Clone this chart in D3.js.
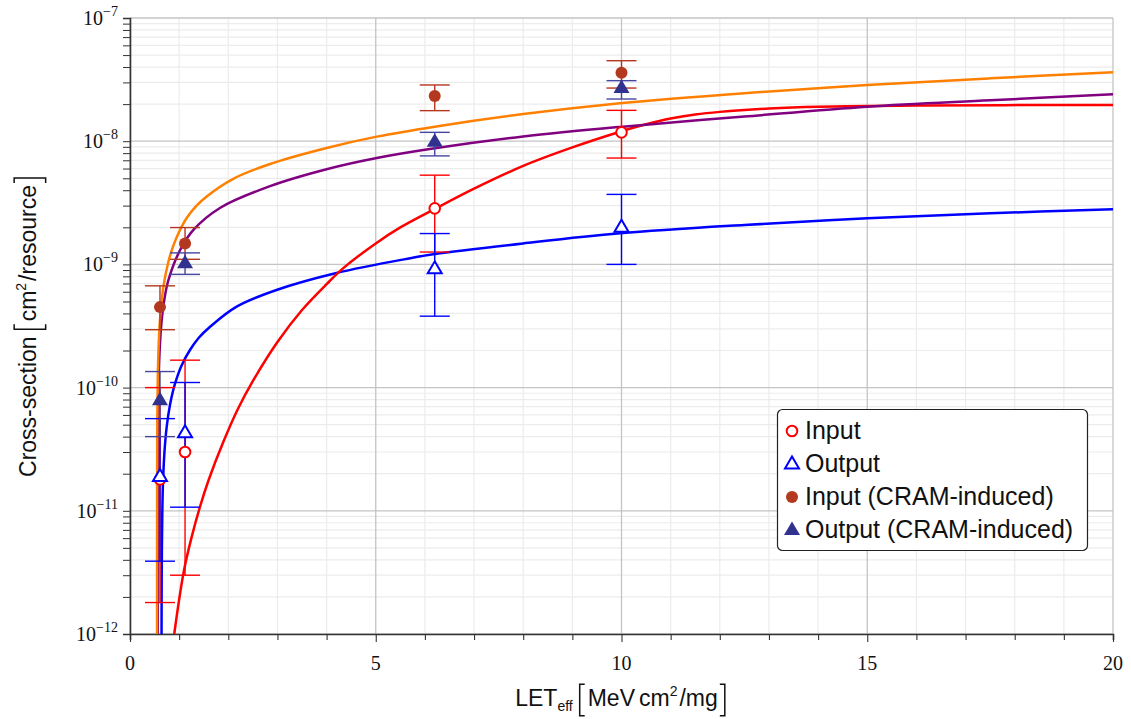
<!DOCTYPE html>
<html><head><meta charset="utf-8">
<script src="https://cdn.jsdelivr.net/npm/d3@7/dist/d3.min.js"></script>
<style>body{margin:0;background:#fff}svg{display:block}</style>
</head><body>
<svg id="c" width="1131" height="719"></svg>
<script>
// ---- data ----
const xTicks = [0, 5, 10, 15, 20];
const yTickExps = [-7, -8, -9, -10, -11, -12];
const pointLET = [0.61, 1.12, 6.2, 10.0];

const inputVal  = [1.8e-11, 3.0e-11, 2.85e-9, 1.18e-8];
const inputLo   = [1.8e-12, 3.0e-12, 1.26e-9, 7.3e-9];
const inputHi   = [1.0e-10, 1.67e-10, 5.3e-9, 1.78e-8];

const outputVal = [1.9e-11, 4.3e-11, 9.2e-10, 2.0e-9];
const outputLo  = [3.9e-12, 1.07e-11, 3.8e-10, 1.0e-9];
const outputHi  = [5.6e-11, 1.1e-10, 1.78e-9, 3.7e-9];

const cramInVal = [4.5e-10, 1.48e-9, 2.33e-8, 3.6e-8];
const cramInLo  = [2.95e-10, 1.1e-9, 1.77e-8, 2.7e-8];
const cramInHi  = [6.7e-10, 1.99e-9, 2.86e-8, 4.5e-8];

const cramOutVal = [7.9e-11, 1.02e-9, 9.9e-9, 2.7e-8];
const cramOutLo  = [4.0e-11, 8.3e-10, 7.6e-9, 2.2e-8];
const cramOutHi  = [1.35e-10, 1.24e-9, 1.18e-8, 3.1e-8];

// fitted curves: [LET, log10(cross-section)]
const fitInput = [[0.9,-12],[1.0,-11.72],[1.1,-11.48],[1.25,-11.22],[1.424,-10.967],[1.6,-10.75],[1.9,-10.44],[2.2,-10.17],[2.51,-9.94],[3.0,-9.63],[3.5,-9.37],[4.0,-9.16],[4.34,-9.03],[5.0,-8.83],[5.5,-8.70],[6.2,-8.55],[7.0,-8.385],[8.0,-8.2],[9.0,-8.05],[9.97,-7.923],[10.5,-7.862],[11,-7.815],[11.5,-7.783],[12,-7.762],[13,-7.735],[14,-7.72],[16,-7.71],[20,-7.706]];
const fitOutput = [[0.642,-12],[0.645,-11.53],[0.657,-11.02],[0.67,-10.79],[0.70,-10.53],[0.746,-10.32],[0.814,-10.14],[0.88,-10.02],[0.95,-9.925],[1.05,-9.82],[1.22,-9.695],[1.4,-9.595],[1.63,-9.506],[2.17,-9.343],[2.98,-9.208],[4.2,-9.07],[5.7,-8.95],[6.2,-8.916],[8,-8.83],[9.97,-8.748],[12.5,-8.68],[15,-8.626],[17.5,-8.585],[20,-8.553]];
const fitCramIn = [[0.55,-12],[0.5505,-11.11],[0.552,-10.63],[0.556,-10.25],[0.565,-9.93],[0.58,-9.69],[0.61,-9.45],[0.68,-9.18],[0.78,-8.98],[0.88,-8.85],[1.0,-8.735],[1.15,-8.625],[1.35,-8.525],[1.56,-8.448],[2.1,-8.305],[2.85,-8.185],[4,-8.055],[5.02,-7.963],[6.2,-7.882],[8,-7.78],[9.97,-7.692],[12.5,-7.61],[15,-7.544],[17.5,-7.49],[20,-7.441]];
const fitCramOut = [[0.565,-12],[0.5651,-11.645],[0.566,-10.89],[0.57,-10.361],[0.58,-10.002],[0.6,-9.724],[0.64,-9.474],[0.7,-9.282],[0.78,-9.129],[1.02,-8.883],[1.29,-8.72],[1.83,-8.542],[2.85,-8.365],[4,-8.228],[5.02,-8.137],[6.2,-8.058],[8,-7.962],[9.97,-7.884],[12.5,-7.8],[15,-7.72],[17.5,-7.668],[20,-7.619]];

const legendLabels = ["Input", "Output", "Input (CRAM-induced)", "Output (CRAM-induced)"];

// ---- layout ----
const L = 130, R = 1113, T = 18, B = 634;
const svg = d3.select("#c");
const x = d3.scaleLinear().domain([0, 20]).range([L, R]);
const y = d3.scaleLog().domain([1e-12, 1e-7]).range([B, T]);

const C = {
  input: "#ff0000", output: "#0000ff",
  cramIn: "#b4371f", cramOut: "#31318f",
  cramInBar: "#b4371f", cramOutBar: "#4646a0",
  fitCramIn: "#ff8000", fitCramOut: "#800080"
};

// grid
const g = svg.append("g");
const minorY = [];
for (let e = -12; e < -7; e++) for (let m = 2; m <= 9; m++) minorY.push(m * Math.pow(10, e));
g.selectAll(".gmy").data(minorY).join("line")
  .attr("x1", L).attr("x2", R).attr("y1", d => y(d)).attr("y2", d => y(d))
  .attr("stroke", "#ececec").attr("stroke-width", 1.2);
const minorX = d3.range(1, 20).filter(v => v % 5 !== 0);
g.selectAll(".gmx").data(minorX).join("line")
  .attr("x1", d => x(d)).attr("x2", d => x(d)).attr("y1", T).attr("y2", B)
  .attr("stroke", "#ececec").attr("stroke-width", 1.2);
g.selectAll(".gMy").data(yTickExps.map(e => Math.pow(10, e))).join("line")
  .attr("x1", L).attr("x2", R).attr("y1", d => y(d)).attr("y2", d => y(d))
  .attr("stroke", "#c4c4c4").attr("stroke-width", 1.3);
g.selectAll(".gMx").data(xTicks).join("line")
  .attr("x1", d => x(d)).attr("x2", d => x(d)).attr("y1", T).attr("y2", B)
  .attr("stroke", "#c4c4c4").attr("stroke-width", 1.3);

// axes (left, bottom) via d3 axis
const xAxis = d3.axisBottom(x).tickValues(d3.range(0, 21)).tickSize(6).tickFormat("");
const xa = svg.append("g").attr("transform", `translate(0,${B})`).call(xAxis);
xa.selectAll(".tick line").attr("stroke", "#333").attr("stroke-width", 1.1)
  .attr("y2", d => d % 5 === 0 ? 8 : 6);
xa.select(".domain").attr("stroke", "#333").attr("stroke-width", 1.6);

const yAxis = d3.axisLeft(y).tickValues(minorY.concat(yTickExps.map(e => Math.pow(10, e)))).tickSize(7).tickFormat("");
const ya = svg.append("g").attr("transform", `translate(${L},0)`).call(yAxis);
ya.selectAll(".tick line").attr("stroke", "#333").attr("stroke-width", 1.0);
ya.select(".domain").attr("stroke", "#333").attr("stroke-width", 1.6);

// tick labels
svg.append("g").selectAll("text").data(xTicks).join("text")
  .attr("x", d => x(d)).attr("y", 670).attr("text-anchor", "middle")
  .attr("font-family", "Liberation Serif").attr("font-size", 20).attr("fill", "#111")
  .text(d => d);
const yl = svg.append("g").selectAll("text").data(yTickExps).join("text")
  .attr("x", 118).attr("y", d => y(Math.pow(10, d)) + 7).attr("text-anchor", "end")
  .attr("font-family", "Liberation Serif").attr("font-size", 20).attr("fill", "#111");
yl.append("tspan").text("10");
yl.append("tspan").attr("dy", -9).attr("font-size", 14).text(d => "\u2212" + Math.abs(d));

// clip
svg.append("clipPath").attr("id", "clip").append("rect")
  .attr("x", L).attr("y", T).attr("width", R - L).attr("height", B - T);

// curves
const line = d3.line().x(d => x(d[0])).y(d => y(Math.pow(10, d[1]))).curve(d3.curveCatmullRom.alpha(0.5));
const cg = svg.append("g").attr("clip-path", "url(#clip)");
[[fitOutput, C.output], [fitInput, C.input], [fitCramOut, C.fitCramOut], [fitCramIn, C.fitCramIn]]
  .forEach(([data, col]) => cg.append("path").attr("d", line(data)).attr("fill", "none")
    .attr("stroke", col).attr("stroke-width", 2.5).attr("stroke-linejoin", "round"));

// error bars
function errBars(vals, lo, hi, col) {
  const eg = svg.append("g").attr("stroke", col).attr("stroke-width", 1.4).attr("fill", "none");
  pointLET.forEach((lx, i) => {
    const px = x(lx);
    eg.append("line").attr("x1", px).attr("x2", px).attr("y1", y(lo[i])).attr("y2", y(hi[i]));
    eg.append("line").attr("x1", px - 15).attr("x2", px + 15).attr("y1", y(lo[i])).attr("y2", y(lo[i]));
    eg.append("line").attr("x1", px - 15).attr("x2", px + 15).attr("y1", y(hi[i])).attr("y2", y(hi[i]));
  });
}
errBars(inputVal, inputLo, inputHi, C.input);
errBars(outputVal, outputLo, outputHi, C.output);
errBars(cramInVal, cramInLo, cramInHi, C.cramInBar);
errBars(cramOutVal, cramOutLo, cramOutHi, C.cramOutBar);

// markers
const tri = "M0,-7.5L7,4.5L-7,4.5Z";
function marker(sel, type) {
  if (type === 0) sel.append("circle").attr("r", 5.3).attr("fill", "#fff").attr("stroke", C.input).attr("stroke-width", 2);
  if (type === 1) sel.append("path").attr("d", tri).attr("fill", "#fff").attr("stroke", C.output).attr("stroke-width", 2);
  if (type === 2) sel.append("circle").attr("r", 6).attr("fill", C.cramIn);
  if (type === 3) sel.append("path").attr("d", "M0,-8.5L8,5L-8,5Z").attr("fill", C.cramOut);
}
[inputVal, outputVal, cramInVal, cramOutVal].forEach((vals, k) => {
  vals.forEach((v, i) => {
    const mg = svg.append("g").attr("transform", `translate(${x(pointLET[i])},${y(v)})`);
    marker(mg, k);
  });
});

// legend
const lg = svg.append("g");
lg.append("rect").attr("x", 777.5).attr("y", 409.5).attr("width", 310).attr("height", 141)
  .attr("rx", 5).attr("fill", "#fff").attr("stroke", "#222").attr("stroke-width", 1.2);
legendLabels.forEach((t, i) => {
  const by = 439 + i * 33;
  const mg = lg.append("g").attr("transform", `translate(792,${by - 8})`);
  marker(mg, i);
  lg.append("text").attr("x", 805).attr("y", by).attr("font-family", "Liberation Sans")
    .attr("font-size", 25).attr("fill", "#111").text(t);
});

// axis titles with tall brackets
function richLabel(parent, segs, size) {
  const grp = parent.append("g");
  let cx = 0;
  segs.forEach(s => {
    if (s.gap) { cx += s.gap; return; }
    if (s.br) {
      const top = -size * 0.95, bot = size * 0.42, w = 5;
      const p = s.br === "[" ? `M${cx + w},${top}H${cx}V${bot}H${cx + w}` : `M${cx},${top}H${cx + w}V${bot}H${cx}`;
      grp.append("path").attr("d", p).attr("fill", "none").attr("stroke", "#111").attr("stroke-width", 1.5);
      cx += w + 3; return;
    }
    const t = grp.append("text").attr("x", cx).attr("y", s.dy || 0)
      .attr("font-family", "Liberation Sans").attr("font-size", s.s || size).attr("fill", "#111").text(s.t);
    cx += t.node().getComputedTextLength() + (s.after || 0);
  });
  return { grp, width: cx };
}
const xl = richLabel(svg.append("g"), [
  { t: "LET" }, { t: "eff", s: 14, dy: 5 }, { gap: 7 }, { br: "[" }, { t: "MeV", after: 4 }, { t: "cm" },
  { t: "2", s: 14, dy: -10, after: 2 }, { t: "/mg" }, { gap: 2 }, { br: "]" }], 23);
xl.grp.attr("transform", `translate(${(L + R) / 2 - xl.width / 2},706)`);

const ylab = richLabel(svg.append("g"), [
  { t: "Cross-section" }, { gap: 7 }, { br: "[" }, { t: "cm" },
  { t: "2", s: 14, dy: -10, after: 2 }, { t: "/resource" }, { gap: 2 }, { br: "]" }], 23);
ylab.grp.attr("transform", `translate(36,${(T + B) / 2 + ylab.width / 2}) rotate(-90)`);
</script>
</body></html>
